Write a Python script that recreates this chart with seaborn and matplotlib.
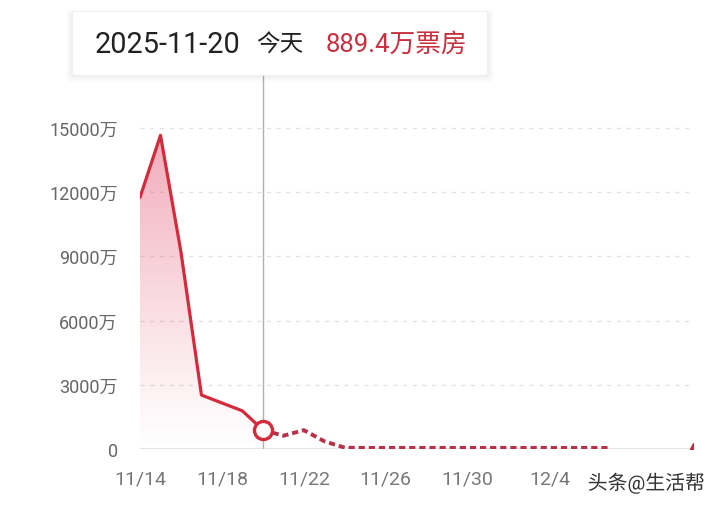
import numpy as np
import pandas as pd
import matplotlib
matplotlib.use("Agg")
import matplotlib.pyplot as plt
import seaborn as sns
from matplotlib.patches import FancyBboxPatch, Polygon
import matplotlib.patheffects as pe

# ---- data ----
tick_labels = ["11/14", "11/18", "11/22", "11/26", "11/30", "12/4"]
tick_days = [0, 4, 8, 12, 16, 20]
actual_days = [0, 1, 2, 3, 4, 5, 6]
actual_vals = [11750, 14650, 9200, 2520, 2150, 1780, 889.4]
forecast_days = [6, 7, 8, 9, 10, 11, 12, 13, 14, 15, 16, 17, 18, 19, 20, 21, 22, 23]
forecast_vals = [889.4, 620, 880, 360, 60, 50, 50, 50, 50, 50, 50, 50, 50, 50, 50, 50, 50, 50]
last_day = [27]
last_val = [70]
y_ticks = [0, 3000, 6000, 9000, 12000, 15000]
y_labels = ["0", "3000万", "6000万", "9000万", "12000万", "15000万"]

sns.set_theme(style="white")
FAM = ['Roboto', 'Noto Sans CJK SC', 'DejaVu Sans']
plt.rcParams['font.family'] = FAM

RED = "#d42b3c"
DRED = "#b83148"

fig = plt.figure(figsize=(7.2, 5.06), dpi=100)
ax = fig.add_axes([140/720, (506-450)/506, 553/720, 373/506])

df_a = pd.DataFrame({"day": actual_days, "val": actual_vals})
df_f = pd.DataFrame({"day": forecast_days, "val": forecast_vals})

ax.set_xlim(0, 27)
ax.set_ylim(0, 17420)

# gradient fill under actual
xs = np.array(actual_days, dtype=float)
ys = np.array(actual_vals, dtype=float)
poly = Polygon(np.column_stack([np.r_[xs, xs[-1], xs[0]], np.r_[ys, 0, 0]]),
               closed=True, facecolor="none", edgecolor="none")
ax.add_patch(poly)
n = 256
grad = np.zeros((n, 1, 4))
t = np.linspace(1, 0, n)[:, None]  # top -> bottom
grad[..., 0] = 0.89
grad[..., 1] = 0.30
grad[..., 2] = 0.42
grad[..., 3] = 0.48 * t ** 1.1
im = ax.imshow(grad, extent=[0, 6, 0, 15000], aspect="auto", origin="upper", zorder=1)
im.set_clip_path(poly)

# grid lines
for yv in y_ticks[1:]:
    ax.axhline(yv, color="#e4e4e4", lw=1, ls=(0, (3, 4)), zorder=0)
ax.axhline(0, color="#e0e0e0", lw=1.2, zorder=0)

# vertical indicator
ax.axvline(6, color="#b0b0b0", lw=1, zorder=2)

sns.lineplot(data=df_a, x="day", y="val", ax=ax, color=RED, lw=2.3, zorder=3)
sns.lineplot(data=df_f, x="day", y="val", ax=ax, color=DRED, lw=2.8,
             linestyle=(0, (1.6, 1.0)), zorder=3)
ax.plot(last_day, last_val, marker="^", color=DRED, ms=7, clip_on=True, zorder=3)
ax.plot([6], [889.4], marker="o", ms=13, mfc="white", mec=RED, mew=2.4, zorder=4,
        clip_on=False)

ax.set_xlabel("")
ax.set_ylabel("")
ax.set_xticks(tick_days)
ax.set_xticklabels(tick_labels)
ax.set_yticks(y_ticks)
ax.set_yticklabels(y_labels)
ax.tick_params(axis="x", length=0, pad=15, labelsize=14, colors="#777777")
ax.tick_params(axis="y", length=0, pad=16, labelsize=13, colors="#666666")
for s in ax.spines.values():
    s.set_visible(False)
ax.grid(False)

# tooltip box
for i, a in enumerate([0.025, 0.02, 0.015]):
    d = (i + 1) * 0.003
    sh = FancyBboxPatch((73/720 - d, 1 - 76/506 - 1.6 * d), 414/720 + 2 * d, 63/506 + 2 * d,
                        boxstyle="round,pad=0,rounding_size=0.006",
                        transform=fig.transFigure, facecolor="#000000", alpha=a,
                        edgecolor="none", zorder=5)
    fig.patches.append(sh)
box = FancyBboxPatch((73/720, 1 - 76/506), 414/720, 63/506,
                     boxstyle="round,pad=0,rounding_size=0.004",
                     transform=fig.transFigure, facecolor="white",
                     edgecolor="none", zorder=6)
fig.patches.append(box)
ty = 1 - 45/506
fig.text(95/720, ty, "2025-11-20", fontsize=20.8, color="#222222", va="center", zorder=7)
fig.text(256/720, ty, "今天", fontsize=17, color="#222222", va="center", zorder=7)
fig.text(326/720, ty, "889.4万票房", fontsize=18.5, color="#c8303f", va="center", zorder=7)

# watermark
fig.text(705/720, 1 - 484/506, "头条@生活帮", fontsize=14.3, color="#333333",
         ha="right", va="center",
         path_effects=[pe.withStroke(linewidth=2, foreground="white")])

fig.savefig("out.png", dpi=100, facecolor="white")
